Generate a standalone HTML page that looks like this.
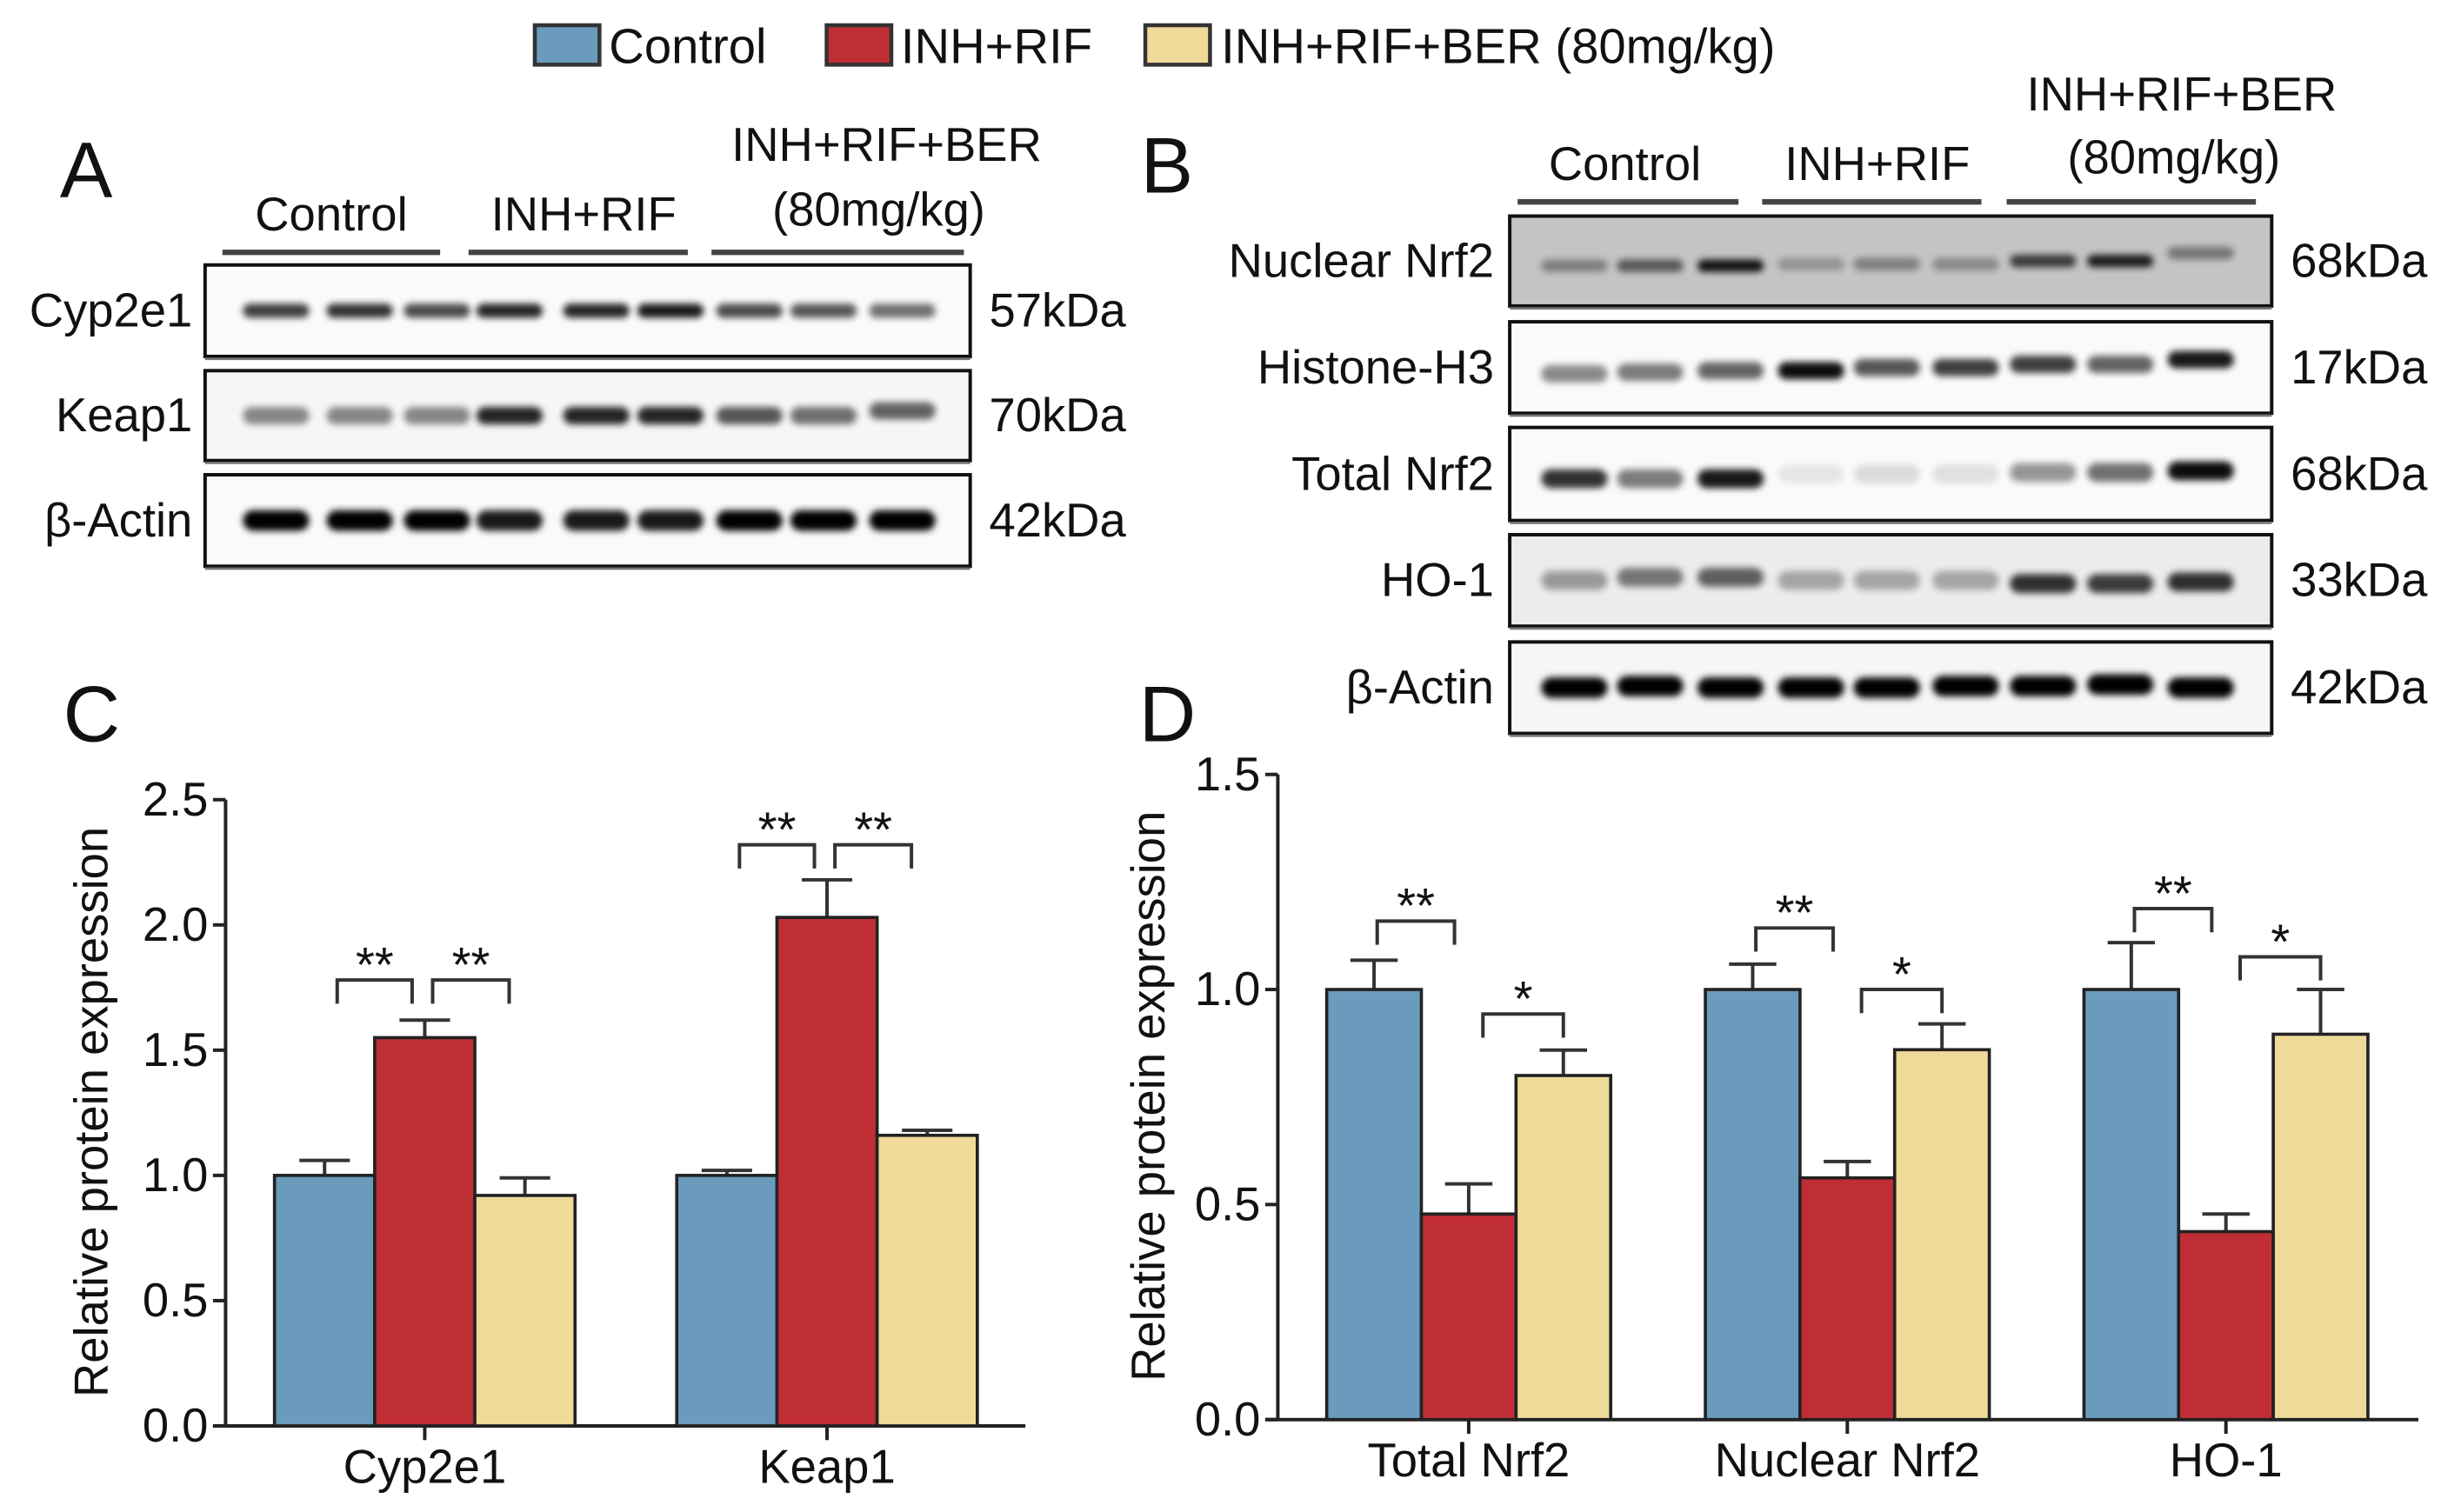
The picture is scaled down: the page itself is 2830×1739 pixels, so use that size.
<!DOCTYPE html>
<html><head><meta charset="utf-8">
<style>
html,body{margin:0;padding:0;background:#fff;}
svg{display:block;}
text{font-family:"Liberation Sans Narrow","Liberation Sans",Arial,sans-serif;fill:#111;}
</style></head>
<body>
<svg id="fig" width="2830" height="1739" viewBox="0 0 1560 958.6" xmlns="http://www.w3.org/2000/svg">
<defs>
<filter id="blur" x="-20%" y="-100%" width="140%" height="300%"><feGaussianBlur stdDeviation="2.2"/></filter>
<filter id="blur2" x="-20%" y="-20%" width="140%" height="140%"><feGaussianBlur stdDeviation="6"/></filter>
</defs>
<g id="legend">
<rect x="339" y="16" width="41" height="25" fill="#6a9bbd" stroke="#333" stroke-width="2.5"/>
<text x="386" y="40" font-size="31">Control</text>
<rect x="524" y="16" width="41" height="25" fill="#c02e35" stroke="#333" stroke-width="2.5"/>
<text x="571" y="40" font-size="31">INH+RIF</text>
<rect x="726" y="16" width="41" height="25" fill="#f0da9a" stroke="#333" stroke-width="2.5"/>
<text x="774" y="40" font-size="31">INH+RIF+BER (80mg/kg)</text>
</g>
<text x="38" y="125" font-size="50">A</text>
<text x="723" y="122" font-size="50">B</text>
<text x="40" y="470" font-size="50">C</text>
<text x="722" y="470" font-size="50">D</text>
<g id="blots"></g>
<g id="chartC"></g>
<g id="chartD"></g>
</svg>
<script>
// ---------- Chart data ----------
const cCategories = ["Cyp2e1", "Keap1"];
const cControl = [1.0, 1.0];
const cControlErr = [0.06, 0.02];
const cInhRif = [1.55, 2.03];
const cInhRifErr = [0.07, 0.15];
const cBer = [0.92, 1.16];
const cBerErr = [0.07, 0.02];
const cTicks = [0, 0.5, 1.0, 1.5, 2.0, 2.5];
const cTickLabels = ["0.0", "0.5", "1.0", "1.5", "2.0", "2.5"];
const cSigLeft = ["**", "**"];
const cSigRight = ["**", "**"];
const cSigLeftY = [1.78, 2.32];
const cSigRightY = [1.78, 2.32];

const dCategories = ["Total Nrf2", "Nuclear Nrf2", "HO-1"];
const dControl = [1.0, 1.0, 1.0];
const dControlErr = [0.068, 0.059, 0.109];
const dInhRif = [0.478, 0.562, 0.437];
const dInhRifErr = [0.07, 0.038, 0.041];
const dBer = [0.80, 0.86, 0.896];
const dBerErr = [0.059, 0.06, 0.104];
const dTicks = [0, 0.5, 1.0, 1.5];
const dTickLabels = ["0.0", "0.5", "1.0", "1.5"];
const dSigLeft = ["**", "**", "**"];
const dSigRight = ["*", "*", "*"];
const dSigLeftY = [1.159, 1.143, 1.188];
const dSigRightY = [0.943, 1.0, 1.076];

const NS = "http://www.w3.org/2000/svg";
function mk(tag, attrs, parent){
  const e = document.createElementNS(NS, tag);
  for (const k in attrs) e.setAttribute(k, attrs[k]);
  parent.appendChild(e);
  return e;
}
const COLORS = ["#6a9bbd", "#c02e35", "#f0da9a"];

function drawChart(g, cfg){
  const y = v => cfg.y0 - (v / cfg.ymax) * (cfg.y0 - cfg.y1);
  const ya = mk("line", {x1:cfg.ax, y1:y(cfg.ymax), x2:cfg.ax, y2:cfg.y0, stroke:"#222", "stroke-width":2.2}, g);
  
  
  const xa = mk("line", {x1:cfg.ax - 8, y1:cfg.y0, x2:cfg.axEnd, y2:cfg.y0, stroke:"#222", "stroke-width":2.2}, g);
  
  
  cfg.ticks.forEach((t, i) => {
    const tl = mk("line", {x1:cfg.ax - 8, y1:y(t), x2:cfg.ax, y2:y(t), stroke:"#222", "stroke-width":2.2}, g);
    
    
    const tx = mk("text", {x:cfg.ax - 11, y:y(t) + 10, "font-size":30, "text-anchor":"end"}, g);
    tx.textContent = cfg.tickLabels[i];
    
    
  });
  const title = mk("text", {x:0, y:0, "font-size":30, "text-anchor":"middle",
    transform:"translate(" + cfg.titleX + "," + cfg.titleY + ") rotate(-90)"}, g);
  title.textContent = "Relative protein expression";
  
  

  const series = [cfg.s0, cfg.s1, cfg.s2];
  const errs = [cfg.e0, cfg.e1, cfg.e2];
  const names = ["control", "inh-rif", "ber"];
  cfg.cats.forEach((cat, ci) => {
    const gx = cfg.g0 + ci * cfg.gStep;
    const centers = [];
    for (let s = 0; s < 3; s++) {
      const bx = gx + s * cfg.bw;
      const v = series[s][ci], e = errs[s][ci];
      centers.push(bx + cfg.bw / 2);
      const el = mk("line", {x1:bx + cfg.bw/2, y1:y(v), x2:bx + cfg.bw/2, y2:y(v + e), stroke:"#333", "stroke-width":2.2}, g);
      
      
      const cap = mk("line", {x1:bx + cfg.bw/2 - cfg.cap, y1:y(v + e), x2:bx + cfg.bw/2 + cfg.cap, y2:y(v + e), stroke:"#333", "stroke-width":2.2}, g);
      
      
      const r = mk("rect", {x:bx, y:y(v), width:cfg.bw, height:cfg.y0 - y(v), fill:COLORS[s], stroke:"#222", "stroke-width":2}, g);
      
      
    }
    const tk = mk("line", {x1:centers[1], y1:cfg.y0, x2:centers[1], y2:cfg.y0 + 9, stroke:"#222", "stroke-width":2.2}, g);
    
    
    const lb = mk("text", {x:centers[1], y:cfg.y0 + 36, "font-size":30, "text-anchor":"middle"}, g);
    lb.textContent = cat;
    
    
    const br = [
      [centers[0] + cfg.lo[0], centers[1] + cfg.lo[1], cfg.sigLY[ci], cfg.sigL[ci]],
      [centers[1] + cfg.ro[0], centers[2] + cfg.ro[1], cfg.sigRY[ci], cfg.sigR[ci]]
    ];
    br.forEach(b => {
      const yt = y(b[2]);
      const p = mk("path", {d:"M" + b[0] + "," + (yt + cfg.leg) + " V" + yt + " H" + b[1] + " V" + (yt + cfg.leg), fill:"none", stroke:"#333", "stroke-width":2.2}, g);
      
      
      const st = mk("text", {x:(b[0] + b[1]) / 2, y:yt + 1, "font-size":31, "text-anchor":"middle"}, g);
      st.textContent = b[3];
      
      
    });
  });
}

drawChart(document.getElementById("chartC"), {
  prefix:"chart-c", ax:143, axEnd:650, y0:904, y1:507, ymax:2.5,
  ticks:cTicks, tickLabels:cTickLabels, titleX:68, titleY:705,
  cats:cCategories, s0:cControl, s1:cInhRif, s2:cBer, e0:cControlErr, e1:cInhRifErr, e2:cBerErr,
  g0:174, gStep:255, bw:63.5, cap:16,
  lo:[8,-8], ro:[5,-10], leg:15, sigL:cSigLeft, sigR:cSigRight, sigLY:cSigLeftY, sigRY:cSigRightY
});
drawChart(document.getElementById("chartD"), {
  prefix:"chart-d", ax:810, axEnd:1533, y0:900, y1:491, ymax:1.5,
  ticks:dTicks, tickLabels:dTickLabels, titleX:738, titleY:695,
  cats:dCategories, s0:dControl, s1:dInhRif, s2:dBer, e0:dControlErr, e1:dInhRifErr, e2:dBerErr,
  g0:841, gStep:240, bw:60, cap:15,
  lo:[2,-9], ro:[9,0], leg:15, sigL:dSigLeft, sigR:dSigRight, sigLY:dSigLeftY, sigRY:dSigRightY
});

// ---------- Western blots ----------
const blots = document.getElementById("blots");
function groupLabels(list){
  list.forEach(l => {
    const t = mk("text", {x:l[0], y:l[1], "font-size":30, "text-anchor":"middle"}, blots);
    t.textContent = l[2];
    
    
  });
}
function underline(x1, x2, yy){
  const u = mk("line", {x1:x1, y1:yy, x2:x2, y2:yy, stroke:"#444", "stroke-width":3.5}, blots);
  
  
}
function blot(name, x, yy, w, h, labelX, kdaX, kda, lanes, intens, bg, bandH, slope){
  const g = mk("g", {}, blots);
  
  
  mk("rect", {x:x, y:yy, width:w, height:h, fill:bg}, g);
  const by = yy + h * 0.5;
  lanes.forEach((lx, i) => {
    const a = intens[i];
    const b = mk("rect", {x:lx - 21, y:by - bandH/2 - (slope ? slope[i] : 0), width:42, height:bandH, rx:bandH/2, fill:"#000", opacity:a, filter:"url(#blur)"}, g);
    
    
  });
  mk("rect", {x:x, y:yy, width:w, height:h, fill:"none", stroke:"#111", "stroke-width":2.2}, g);
  mk("line", {x1:x, y1:yy + h + 1.5, x2:x + w, y2:yy + h + 1.5, stroke:"#777", "stroke-width":1.5}, g);
  const t = mk("text", {x:labelX, y:yy + h/2 + 10, "font-size":30, "text-anchor":"end"}, g);
  t.textContent = name;
  
  
  const k = mk("text", {x:kdaX, y:yy + h/2 + 10, "font-size":30}, g);
  k.textContent = kda;
  
  
}
const lanesA = [175, 228, 277, 323, 378, 425, 475, 522, 572];
const lanesB = [998, 1046, 1097, 1148, 1196, 1246, 1295, 1344, 1395];

groupLabels([[210,146,"Control"],[370,146,"INH+RIF"],[562,102,"INH+RIF+BER"],[557,143,"(80mg/kg)"]]);
underline(141,279,160); underline(297,436,160); underline(451,611,160);
blot("Cyp2e1",130,168,485,58,122,627,"57kDa",lanesA,[0.75,0.8,0.7,0.85,0.85,0.9,0.7,0.65,0.55],"#fafafa",9,null);
blot("Keap1",130,235,485,57,122,627,"70kDa",lanesA,[0.45,0.45,0.45,0.85,0.85,0.85,0.65,0.55,0.6],"#f6f6f6",11,[0,0,0,0,0,0,0,0,3]);
blot("β-Actin",130,301,485,58,122,627,"42kDa",lanesA,[1,1,1,0.9,0.9,0.9,1,1,1],"#fafafa",13,null);

groupLabels([[1030,114,"Control"],[1190,114,"INH+RIF"],[1383,70,"INH+RIF+BER"],[1378,110,"(80mg/kg)"]]);
underline(962,1102,128); underline(1117,1256,128); underline(1272,1430,128);
blot("Nuclear Nrf2",957,137,483,57,947,1452,"68kDa",lanesB,[0.35,0.55,0.9,0.25,0.35,0.3,0.7,0.85,0.4],"#c4c4c4",8,[-3,-3,-3,-2,-2,-2,0,0,5]);
blot("Histone-H3",957,204,483,58,947,1452,"17kDa",lanesB,[0.45,0.5,0.6,0.95,0.65,0.75,0.75,0.6,0.9],"#fafafa",11,[-4,-3,-2,-2,0,0,2,2,5]);
blot("Total Nrf2",957,271,483,59,947,1452,"68kDa",lanesB,[0.8,0.5,0.9,0.08,0.12,0.1,0.4,0.55,0.95],"#fafafa",12,[-3,-3,-3,0,0,0,1,1,2]);
blot("HO-1",957,339,483,58,947,1452,"33kDa",lanesB,[0.35,0.5,0.6,0.3,0.3,0.3,0.8,0.75,0.8],"#ececec",12,[0,2,2,0,0,0,-2,-2,-1]);
blot("β-Actin",957,407,483,58,947,1452,"42kDa",lanesB,[1,1,1,1,1,1,1,1,1],"#f6f6f6",13,[0,1,0,0,0,1,1,2,0]);
</script>
</body></html>
